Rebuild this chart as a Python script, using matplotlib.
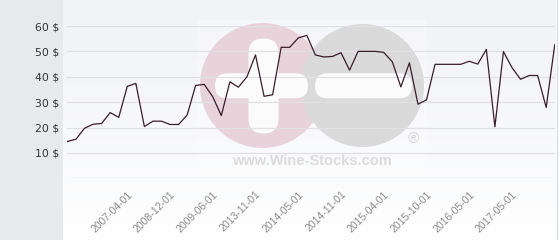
import numpy as np
import matplotlib
matplotlib.use("Agg")
import matplotlib.pyplot as plt
from matplotlib.patches import Circle, FancyBboxPatch, Rectangle

# price per bottle, one value per listing (categorical x axis)
prices = [14.5, 15.4, 19.7, 21.3, 21.6, 25.9, 24.0, 36.2, 37.4, 20.4,
          22.5, 22.5, 21.2, 21.2, 24.9, 36.6, 37.0, 32.1, 24.7, 38.0,
          35.9, 40.0, 48.6, 32.3, 32.9, 51.6, 51.6, 55.3, 56.3, 48.6,
          47.8, 48.0, 49.5, 42.6, 50.0, 50.0, 50.0, 49.6, 45.9, 36.0,
          45.5, 29.2, 30.9, 44.9, 44.9, 44.9, 44.9, 46.1, 45.0, 50.8,
          20.3, 49.9, 43.6, 39.0, 40.5, 40.5, 27.9, 52.6]

date_labels = ["2007-04-01", "2008-12-01", "2009-06-01", "2013-11-01",
               "2014-05-01", "2014-11-01", "2015-04-01", "2015-10-01",
               "2016-05-01", "2017-05-01"]
first_label, label_step = 7, 5

y_ticks = [10, 20, 30, 40, 50, 60]

W, H = 560, 240
fig = plt.figure(figsize=(W / 100, H / 100), dpi=100)
fig.patch.set_facecolor("white")

# left grey panel
fig.patches.append(Rectangle((0, 0), 63 / W, 1, transform=fig.transFigure,
                             facecolor="#e6eaed", edgecolor="none", zorder=0))

# plot background gradient
bg = fig.add_axes([63 / W, 0, (556 - 63) / W, 1], zorder=1)
grad = np.linspace(0, 1, 256).reshape(-1, 1)
top = np.array([242, 243, 247]) / 255.
bot = np.array([255, 255, 255]) / 255.
img = top + (bot - top) * grad[..., None] ** 1.3
bg.imshow(img, aspect="auto", extent=[0, 1, 0, 1], origin="upper")
bg.set_axis_off()
fig.lines.append(plt.Line2D([557 / W, 557 / W], [0, 1], transform=fig.transFigure,
                            color="#d9dde2", lw=1.0, zorder=2))

# watermark logo, drawn in pixel coordinates
wm = fig.add_axes([0, 0, 1, 1], zorder=2)
wm.set_xlim(0, W)
wm.set_ylim(H, 0)
wm.set_axis_off()
wm.patch.set_alpha(0)
wm.add_patch(Rectangle((197, 20), 230, 153, facecolor="white", alpha=0.25,
                       edgecolor="none"))
wm.add_patch(Circle((262.5, 85.5), 62.5, facecolor="#e9d3da", edgecolor="none"))
wm.add_patch(Circle((362.5, 85.5), 61.5, facecolor="#dadada", edgecolor="none"))
pill = dict(facecolor="#fbfbfc", edgecolor="none")
wm.add_patch(FancyBboxPatch((248.5, 38.5), 30, 95,
                            boxstyle="round,pad=0,rounding_size=15", **pill))
wm.add_patch(FancyBboxPatch((215, 73.3), 93, 25,
                            boxstyle="round,pad=0,rounding_size=12.5", **pill))
wm.add_patch(FancyBboxPatch((315, 73.3), 97, 25,
                            boxstyle="round,pad=0,rounding_size=12.5", **pill))
wm.text(413, 139, "\u00ae", fontsize=11, color="#d4d4d4", ha="center", va="center",
        family="Liberation Sans")
wm.text(312, 161, "www.Wine-Stocks.com", fontsize=10.5, fontweight="bold",
        color="#dcdcdc", ha="center", va="center", family="Liberation Sans")

# main chart
ax = fig.add_axes([67 / W, (H - 178.3) / H, (555 - 67) / W, (178.3 - 26) / H],
                  zorder=3)
ax.patch.set_alpha(0)
x = np.arange(len(prices))
ax.plot(x, prices, color="#3a1d2a", lw=0.9, zorder=3)
ax.set_xlim(-0.05, len(prices) - 1 + 0.03)
ax.set_ylim(0, 60)

ax.set_yticks([0] + y_ticks)
ax.set_yticklabels([""] + ["%d $" % v for v in y_ticks])
ax.grid(axis="y", color="#dfe1e4", lw=0.9)
ax.set_axisbelow(True)

tick_pos = [first_label + label_step * i for i in range(len(date_labels))]
ax.set_xticks(tick_pos)
ax.set_xticklabels(date_labels, rotation=45, ha="right", va="top",
                   rotation_mode="anchor", family="Liberation Sans",
                   fontsize=7.5, color="#8a8a8a")
ax.tick_params(axis="x", length=0, pad=8)
ax.tick_params(axis="y", length=0, pad=5.5, labelsize=7.8, labelcolor="#333333")
for s in ax.spines.values():
    s.set_visible(False)

fig.savefig("out.png", dpi=100)
